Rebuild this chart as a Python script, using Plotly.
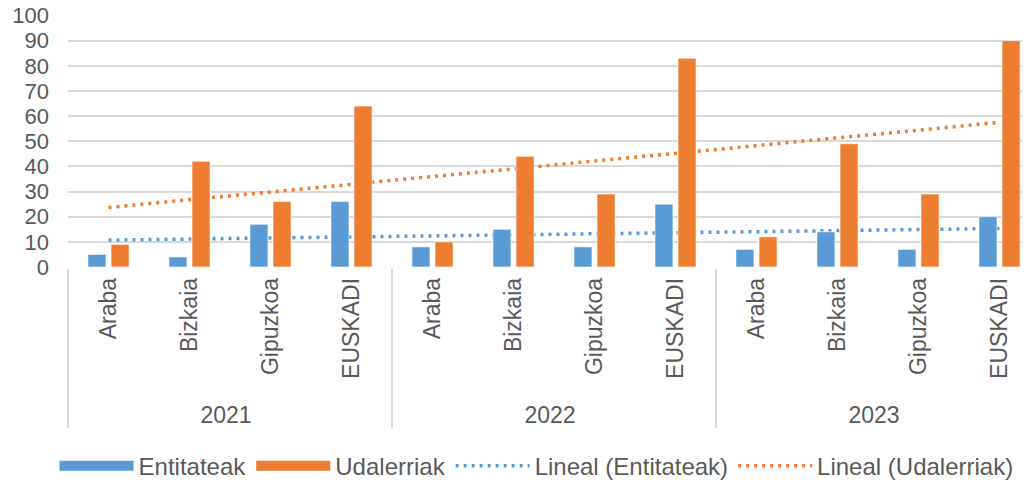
import numpy as np
import plotly.graph_objects as go

years = ["2021", "2022", "2023"]
regions = ["Araba", "Bizkaia", "Gipuzkoa", "EUSKADI"]
entitateak = [5, 4, 17, 26, 8, 15, 8, 25, 7, 14, 7, 20]
udalerriak = [9, 42, 26, 64, 10, 44, 29, 83, 12, 49, 29, 90]
y_ticks = [0, 10, 20, 30, 40, 50, 60, 70, 80, 90, 100]

BLUE = "#5B9BD5"
ORANGE = "#ED7D31"
GRID = "#D9D9D9"
TXT = "#595959"
FONT = "Liberation Sans, Arial, sans-serif"

xcat = [[y for y in years for _ in regions], [r for _ in years for r in regions]]
idx = np.arange(1, len(entitateak) + 1)


def trend(v):
    p = np.polyfit(idx, np.array(v, dtype=float), 1)
    return np.polyval(p, idx)


fig = go.Figure()
fig.add_trace(go.Bar(x=xcat, y=entitateak, name="Entitateak", marker=dict(color=BLUE, line=dict(color="white", width=0.6)),
                     showlegend=False, zorder=2))
fig.add_trace(go.Bar(x=xcat, y=udalerriak, name="Udalerriak", marker=dict(color=ORANGE, line=dict(color="white", width=0.6)),
                     showlegend=False, zorder=2))
# legend proxies for the bars
fig.add_trace(go.Scatter(x=[None], y=[None], mode="lines", name="Entitateak",
                         line=dict(color=BLUE, width=11)))
fig.add_trace(go.Scatter(x=[None], y=[None], mode="lines", name="Udalerriak",
                         line=dict(color=ORANGE, width=11)))
fig.add_trace(go.Scatter(x=xcat, y=trend(entitateak), mode="lines", name="Lineal (Entitateak)",
                         line=dict(color=BLUE, width=3.5, dash="3px,5px"), zorder=0))
fig.add_trace(go.Scatter(x=xcat, y=trend(udalerriak), mode="lines", name="Lineal (Udalerriak)",
                         line=dict(color=ORANGE, width=3.5, dash="3px,5px"), zorder=0))

n = len(entitateak)
fig.update_layout(
    width=1022, height=476,
    margin=dict(l=60, r=0, t=7, b=217, autoexpand=False),
    paper_bgcolor="white", plot_bgcolor="white",
    barmode="group", bargap=0.43, bargroupgap=0.22,
    font=dict(family=FONT, color=TXT, size=22),
    showlegend=True,
    legend=dict(orientation="h", x=-0.014, xanchor="left", y=-0.79, yanchor="middle",
                font=dict(size=24, color=TXT), itemwidth=74, traceorder="normal"),
)
fig.update_xaxes(
    type="multicategory", range=[-0.5, n - 0.5 - 10 / 81],
    showline=True, linecolor=GRID, linewidth=1.5,
    showdividers=True, dividercolor=GRID, dividerwidth=1.5,
    tickangle=-90, tickfont=dict(size=23, color=TXT), ticks="", showgrid=False,
)
fig.update_yaxes(
    range=[0, 100.2], tickvals=y_ticks, showgrid=True, gridcolor=GRID, gridwidth=1.5,
    zeroline=False, showline=False, ticks="", ticklabelstandoff=18,
    ticklabeloverflow="allow", tickfont=dict(size=22, color=TXT),
)
fig.write_html("out.html")
